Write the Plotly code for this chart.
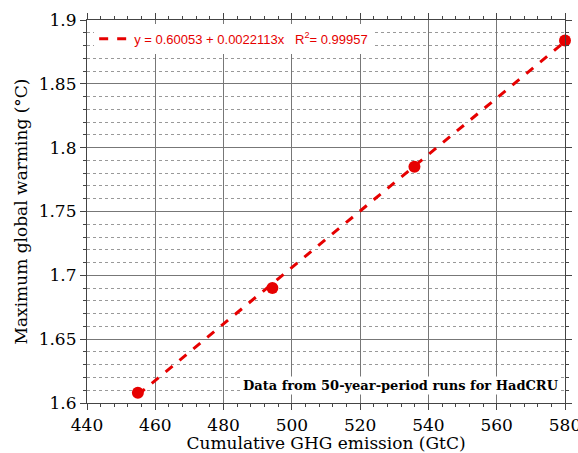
import plotly.graph_objects as go

emission = [454.9, 494.3, 535.9, 580.0]
warming = [1.608, 1.690, 1.785, 1.884]
fit_intercept = 0.60053
fit_slope = 0.0022113
fit_r2 = 0.99957
x_range = [440, 580]
y_range = [1.6, 1.9]

red = "#e60000"
serif = "DejaVu Serif, Liberation Serif, serif"

fit_x = [min(emission), max(emission)]
fit_y = [fit_intercept + fit_slope * v for v in fit_x]

fig = go.Figure()
fig.add_trace(go.Scatter(
    x=fit_x, y=fit_y, mode="lines",
    line=dict(color=red, width=3, dash="dash"),
    name=f"y = {fit_intercept:.5f} + {fit_slope:.7f}x   R<sup>2</sup>= {fit_r2:.5f}",
    showlegend=True, cliponaxis=False,
))
fig.add_trace(go.Scatter(
    x=emission, y=warming, mode="markers",
    marker=dict(color=red, size=12),
    showlegend=False, cliponaxis=False,
))

fig.add_annotation(
    x=1, y=0, xref="paper", yref="paper", xanchor="right", yanchor="bottom",
    xshift=-4, yshift=8,
    text="<b>Data from 50-year-period runs for HadCRU</b>",
    showarrow=False, bgcolor="white",
    font=dict(family=serif, size=13, color="black"),
)

axis_common = dict(
    showline=True, linecolor="#444", linewidth=1.2, mirror="ticks",
    ticks="outside", ticklen=6, tickcolor="#444",
    showgrid=True, gridcolor="#777", gridwidth=1,
    zeroline=False, automargin=False, ticklabeloverflow="allow",
    tickfont=dict(family=serif, size=17, color="black"),
)

fig.update_layout(
    width=578, height=453,
    margin=dict(l=87, r=13, t=20, b=50),
    paper_bgcolor="white", plot_bgcolor="white",
    font=dict(family=serif, color="black"),
    xaxis=dict(
        range=x_range, dtick=20, **axis_common,
        title=dict(text="Cumulative GHG emission (GtC)", standoff=2,
                   font=dict(family=serif, size=17, color="black")),
        minor=dict(dtick=4, ticks="outside", ticklen=3, tickcolor="#444", showgrid=False),
    ),
    yaxis=dict(
        range=y_range, dtick=0.05, **axis_common,
        title=dict(text="Maximum global warming (°C)", standoff=6,
                   font=dict(family=serif, size=17, color="black")),
        minor=dict(dtick=0.01, ticks="outside", ticklen=3, tickcolor="#444",
                   showgrid=True, gridcolor="#999", griddash="dot", gridwidth=1),
    ),
    legend=dict(
        x=0.015, y=0.99, xanchor="left", yanchor="top", xref="paper", yref="paper",
        bgcolor="white", borderwidth=0,
        font=dict(family="Liberation Sans, Arial, sans-serif", size=13, color=red),
        itemwidth=30, tracegroupgap=0,
    ),
)

fig.write_html("out.html")
